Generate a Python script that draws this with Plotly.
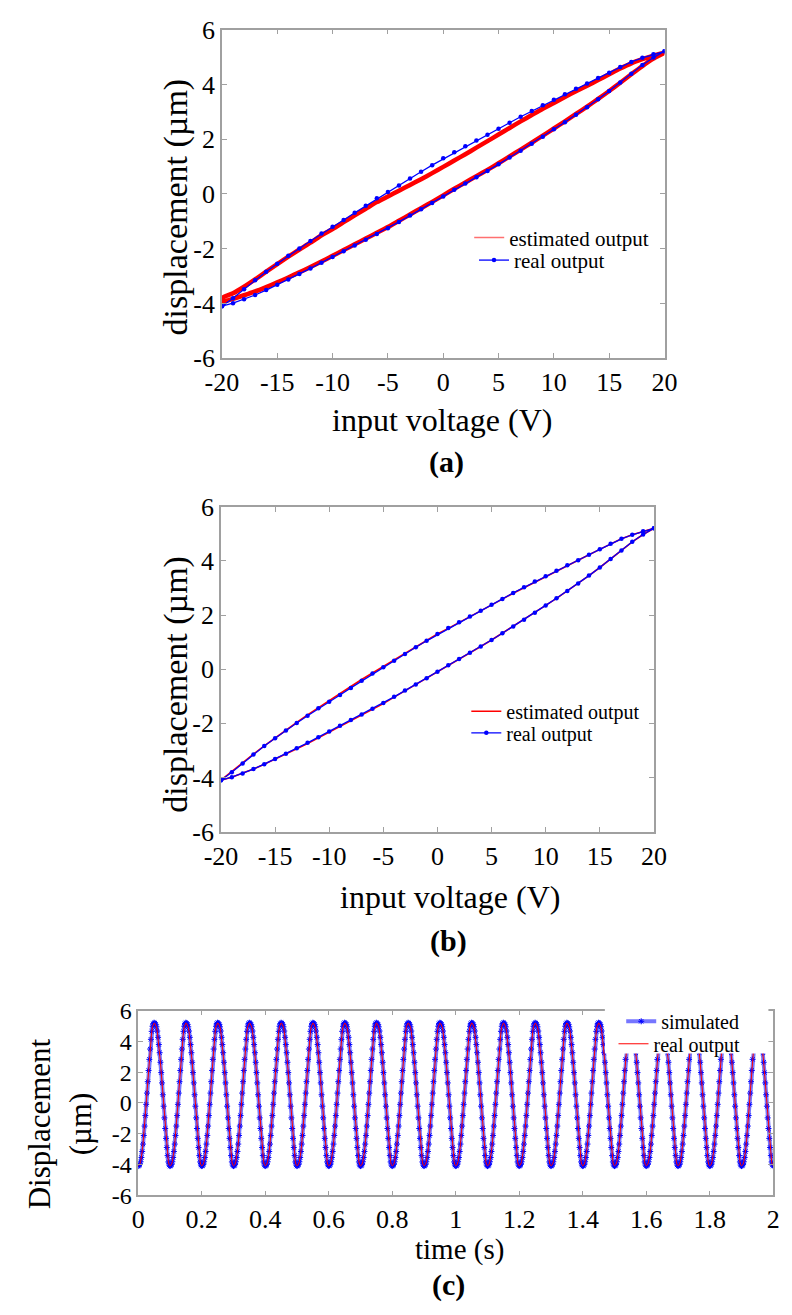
import numpy as np
import plotly.graph_objects as go

# ---------------- data ----------------
volt_desc = list(range(20, -21, -1))   # upper branch, voltage decreasing
volt_asc = list(range(-20, 21, 1))     # lower branch, voltage increasing

real_desc = [5.21, 5.10, 4.97, 4.82, 4.64, 4.43, 4.23, 4.03, 3.84, 3.64, 3.44,
             3.24, 3.03, 2.82, 2.60, 2.38, 2.16, 1.95, 1.74, 1.52, 1.30,
             1.05, 0.81, 0.56, 0.31, 0.07, -0.16, -0.43, -0.69, -0.95, -1.20,
             -1.44, -1.72, -1.99, -2.26, -2.55, -2.84, -3.15, -3.48, -3.81, -4.10]
real_asc = [-4.10, -3.99, -3.85, -3.69, -3.51, -3.32, -3.12, -2.92, -2.72, -2.51, -2.30,
            -2.09, -1.88, -1.67, -1.46, -1.25, -1.02, -0.79, -0.56, -0.33, -0.09,
            0.15, 0.38, 0.61, 0.84, 1.08, 1.33, 1.58, 1.83, 2.09, 2.36,
            2.62, 2.89, 3.17, 3.46, 3.76, 4.07, 4.39, 4.71, 4.98, 5.21]

# (a) estimated output
est_a_desc = [5.16, 5.05, 4.92, 4.77, 4.58, 4.37, 4.16, 3.95, 3.75, 3.54, 3.32,
              3.11, 2.88, 2.65, 2.41, 2.17, 1.93, 1.69, 1.45, 1.22, 0.99,
              0.76, 0.54, 0.33, 0.12, -0.09, -0.30, -0.54, -0.78, -1.03, -1.28,
              -1.51, -1.78, -2.03, -2.29, -2.56, -2.84, -3.12, -3.39, -3.63, -3.80]
est_a_asc = [-3.93, -3.83, -3.70, -3.56, -3.40, -3.23, -3.05, -2.86, -2.67, -2.47, -2.26,
             -2.05, -1.84, -1.63, -1.42, -1.21, -0.98, -0.75, -0.52, -0.29, -0.05,
             0.19, 0.42, 0.65, 0.88, 1.12, 1.37, 1.62, 1.87, 2.13, 2.39,
             2.65, 2.92, 3.19, 3.47, 3.76, 4.06, 4.37, 4.67, 4.94, 5.16]

# (b) estimated output
est_b_desc = [5.21, 5.10, 4.97, 4.82, 4.64, 4.43, 4.23, 4.03, 3.84, 3.64, 3.43,
              3.23, 3.02, 2.81, 2.59, 2.37, 2.15, 1.94, 1.73, 1.51, 1.30,
              1.06, 0.83, 0.59, 0.35, 0.11, -0.12, -0.38, -0.64, -0.90, -1.16,
              -1.41, -1.69, -1.97, -2.25, -2.54, -2.83, -3.14, -3.47, -3.80, -4.10]
est_b_asc = [-4.10, -3.99, -3.85, -3.69, -3.51, -3.33, -3.13, -2.94, -2.75, -2.54, -2.33,
             -2.12, -1.91, -1.70, -1.49, -1.27, -1.03, -0.80, -0.56, -0.33, -0.09,
             0.15, 0.38, 0.61, 0.84, 1.08, 1.33, 1.58, 1.83, 2.09, 2.36,
             2.62, 2.89, 3.17, 3.46, 3.76, 4.07, 4.39, 4.71, 4.98, 5.21]

# (c) one 0.1 s cycle of displacement, sampled every 2.5 ms
n_cycles = 20
cycle_sim = [-4.10, -4.07, -3.99, -3.82, -3.54, -3.15, -2.67, -2.11, -1.50, -0.82,
             -0.09, 0.64, 1.38, 2.11, 2.83, 3.50, 4.13, 4.65, 4.98, 5.15,
             5.21, 5.18, 5.10, 4.94, 4.67, 4.26, 3.79, 3.26, 2.64, 1.97,
             1.30, 0.53, -0.21, -0.97, -1.66, -2.30, -2.89, -3.42, -3.83, -4.03]
cycle_real = [-4.08, -4.05, -3.97, -3.80, -3.52, -3.13, -2.65, -2.09, -1.48, -0.80,
              -0.07, 0.66, 1.40, 2.13, 2.84, 3.50, 4.12, 4.63, 4.96, 5.13,
              5.19, 5.16, 5.08, 4.92, 4.65, 4.24, 3.77, 3.24, 2.62, 1.95,
              1.28, 0.51, -0.23, -0.99, -1.68, -2.31, -2.90, -3.42, -3.82, -4.02]

time_s = np.linspace(0, 2, n_cycles * len(cycle_sim) + 1)
disp_sim = cycle_sim * n_cycles + [cycle_sim[0]]
disp_real = cycle_real * n_cycles + [cycle_real[0]]

volt_ticks = [-20, -15, -10, -5, 0, 5, 10, 15, 20]
volt_labels = ["-20", "-15", "-10", "-5", "0", "5", "10", "15", "20"]
disp_ticks = [-6, -4, -2, 0, 2, 4, 6]
disp_labels = ["-6", "-4", "-2", "0", "2", "4", "6"]
time_ticks = [0, 0.2, 0.4, 0.6, 0.8, 1, 1.2, 1.4, 1.6, 1.8, 2]
time_labels = ["0", "0.2", "0.4", "0.6", "0.8", "1", "1.2", "1.4", "1.6", "1.8", "2"]

# ---------------- figure ----------------
W, H = 792, 1315
FONT = "Liberation Serif"
BLUE = "#0000ff"
RED = "#ff0000"
PINK = "#ff7070"

loop_x = volt_desc + volt_asc

fig = go.Figure()

# (a)
fig.add_trace(go.Scatter(x=loop_x, y=est_a_desc + est_a_asc, mode="lines",
                         line=dict(color=RED, width=4.5, shape="spline", smoothing=0.6),
                         name="estimated output", showlegend=False,
                         xaxis="x", yaxis="y"))
# legend entry (thin sample line, as drawn in the original legend)
fig.add_trace(go.Scatter(x=[None], y=[None], mode="lines",
                         line=dict(color=PINK, width=1.5),
                         name="estimated output", xaxis="x", yaxis="y", legend="legend"))
fig.add_trace(go.Scatter(x=loop_x, y=real_desc + real_asc, mode="lines+markers",
                         line=dict(color=BLUE, width=1.3),
                         marker=dict(color=BLUE, size=4.5, symbol="circle"),
                         name="real output", xaxis="x", yaxis="y", legend="legend2"))
# (b)
fig.add_trace(go.Scatter(x=loop_x, y=est_b_desc + est_b_asc, mode="lines",
                         line=dict(color=RED, width=1.6), name="estimated output",
                         xaxis="x2", yaxis="y2", legend="legend3"))
fig.add_trace(go.Scatter(x=loop_x, y=real_desc + real_asc, mode="lines+markers",
                         line=dict(color=BLUE, width=1.3),
                         marker=dict(color=BLUE, size=4.5, symbol="circle"),
                         name="real output", xaxis="x2", yaxis="y2", legend="legend4"))
# (c)
fig.add_trace(go.Scatter(x=time_s, y=disp_sim, mode="lines+markers",
                         line=dict(color="rgba(60,60,255,0.7)", width=4),
                         marker=dict(color=BLUE, size=5, symbol="asterisk-open",
                                     line=dict(color="rgba(0,0,255,0.8)", width=1)),
                         name="simulated",
                         xaxis="x3", yaxis="y3", legend="legend5"))
fig.add_trace(go.Scatter(x=time_s, y=disp_real, mode="lines",
                         line=dict(color=RED, width=1), name="real output",
                         xaxis="x3", yaxis="y3", legend="legend6"))


def px_x(p):
    return p / W


def px_y(p):
    return 1 - p / H


axis_common = dict(showline=True, linecolor="#a0a0a0", linewidth=1.5, mirror="ticks",
                   ticks="inside", ticklen=5, tickcolor="#a0a0a0", tickwidth=1,
                   showgrid=False, zeroline=False,
                   tickfont=dict(family=FONT, size=26, color="black"))

fig.update_layout(
    width=W, height=H, margin=dict(l=0, r=0, t=0, b=0),
    paper_bgcolor="white", plot_bgcolor="white", showlegend=True,
    font=dict(family=FONT, color="black"),
    xaxis=dict(domain=[px_x(213), px_x(673)], range=[-20, 20], tickvals=volt_ticks,
               ticktext=volt_labels, anchor="y", **axis_common),
    yaxis=dict(domain=[px_y(352), px_y(16)], range=[-6, 6], tickvals=disp_ticks,
               ticktext=disp_labels, anchor="x", **axis_common),
    xaxis2=dict(domain=[px_x(212), px_x(662)], range=[-20, 20], tickvals=volt_ticks,
                ticktext=volt_labels, anchor="y2", **axis_common),
    yaxis2=dict(domain=[px_y(836), px_y(504)], range=[-6, 6], tickvals=disp_ticks,
                ticktext=disp_labels, anchor="x2", **axis_common),
    xaxis3=dict(domain=[px_x(126), px_x(786)], range=[0, 2], tickvals=time_ticks,
                ticktext=time_labels, anchor="y3", **axis_common),
    yaxis3=dict(domain=[px_y(1208), px_y(1019)], range=[-6, 6], tickvals=disp_ticks,
                ticktext=disp_labels, anchor="x3", **axis_common),
)
fig.update_layout(yaxis3_tickfont=dict(family=FONT, size=24, color="black"))

leg_common = dict(bgcolor="rgba(0,0,0,0)", borderwidth=0, xanchor="left",
                  yanchor="middle", orientation="v", itemwidth=30)
fig.update_layout(
    legend=dict(x=px_x(470), y=px_y(229), font=dict(family=FONT, size=21), **leg_common),
    legend2=dict(x=px_x(475), y=px_y(252), font=dict(family=FONT, size=21), **leg_common),
    legend3=dict(x=px_x(467), y=px_y(713), font=dict(family=FONT, size=20), **leg_common),
    legend4=dict(x=px_x(467), y=px_y(735), font=dict(family=FONT, size=20), **leg_common),
    legend5=dict(x=px_x(628), y=px_y(1030), font=dict(family=FONT, size=20), **leg_common),
    legend6=dict(x=px_x(620), y=px_y(1053), font=dict(family=FONT, size=20), **leg_common),
)

# white box behind legend of (c) (hides the traces under it, as in the original)
fig.add_shape(type="rect", xref="x3 domain", yref="y3 domain",
              x0=(611 - 126) / 660, x1=(781 - 126) / 660,
              y0=(1208 - 1063) / 189, y1=1.04,
              fillcolor="white", line=dict(width=0), layer="above")

annotations = [
    dict(text="input voltage (V)", x=px_x(442), y=px_y(415), size=32, angle=0),
    dict(text="displacement (µm)", x=px_x(165), y=px_y(197), size=34, angle=-90),
    dict(text="<b>(a)</b>", x=px_x(446), y=px_y(458), size=30, angle=0),
    dict(text="input voltage (V)", x=px_x(450), y=px_y(903), size=32, angle=0),
    dict(text="displacement (µm)", x=px_x(165), y=px_y(685), size=34, angle=-90),
    dict(text="<b>(b)</b>", x=px_x(448), y=px_y(948), size=30, angle=0),
    dict(text="time (s)", x=px_x(460), y=px_y(1263), size=29, angle=0),
    dict(text="Displacement<br>(µm)", x=px_x(45), y=px_y(1135), size=31, angle=-90),
    dict(text="<b>(c)</b>", x=px_x(448), y=px_y(1300), size=30, angle=0),
]
for a in annotations:
    fig.add_annotation(text=a["text"], x=a["x"], y=a["y"], xref="paper", yref="paper",
                       xanchor="center", yanchor="middle", showarrow=False,
                       textangle=a["angle"],
                       font=dict(family=FONT, size=a["size"], color="black"))

fig.write_html("out.html")
